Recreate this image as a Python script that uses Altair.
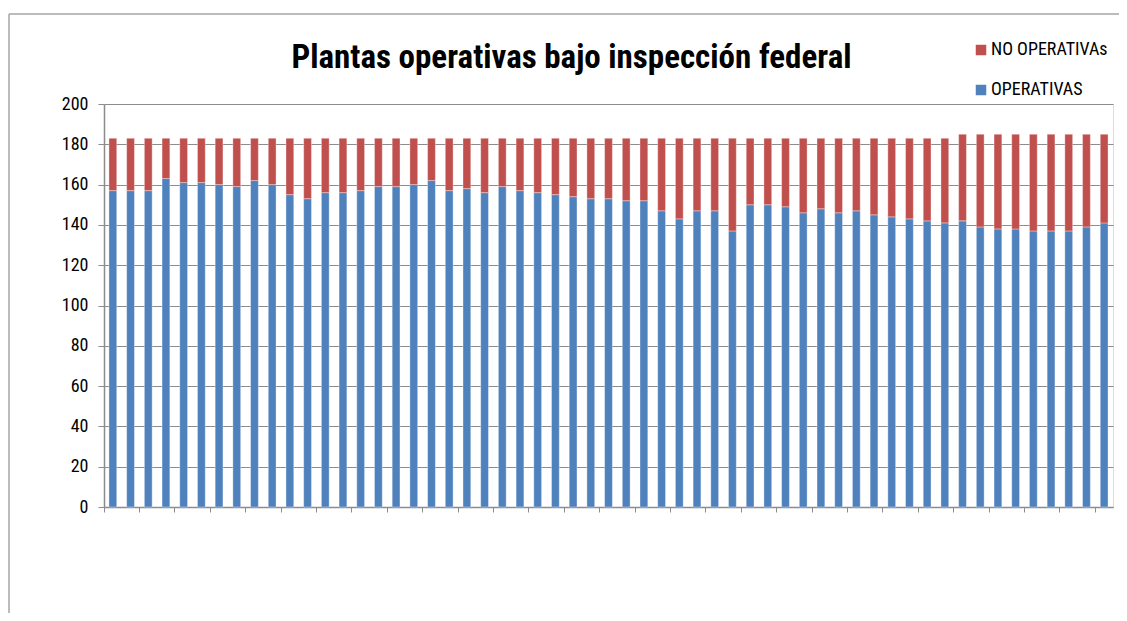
import altair as alt
import pandas as pd

categories = [f"P{i:02d}" for i in range(1, 58)]

operativas = [157, 157, 157, 163, 161, 161, 160, 159, 162, 160,
              155, 153, 156, 156, 157, 159, 159, 160, 162, 157,
              158, 156, 159, 157, 156, 155, 154, 153, 153, 152,
              152, 147, 143, 147, 147, 137, 150, 150, 149, 146,
              148, 146, 147, 145, 144, 143, 142, 141, 142, 139,
              138, 138, 137, 137, 137, 139, 141]

no_operativas = [26, 26, 26, 20, 22, 22, 23, 24, 21, 23,
                 28, 30, 27, 27, 26, 24, 24, 23, 21, 26,
                 25, 27, 24, 26, 27, 28, 29, 30, 30, 31,
                 31, 36, 40, 36, 36, 46, 33, 33, 34, 37,
                 35, 37, 36, 38, 39, 40, 41, 42, 43, 46,
                 47, 47, 48, 48, 48, 46, 44]

series_names = ["NO OPERATIVAs", "OPERATIVAS"]
series_colors = ["#C0504D", "#4F81BD"]

rows = []
for c, op, nop in zip(categories, operativas, no_operativas):
    rows.append({"periodo": c, "serie": "OPERATIVAS", "valor": op, "orden": 0})
    rows.append({"periodo": c, "serie": "NO OPERATIVAs", "valor": nop, "orden": 1})
df = pd.DataFrame(rows)

FONT = "Roboto Condensed, DejaVu Sans Condensed, Liberation Sans Narrow, Arial Narrow, Roboto, sans-serif"
GRID = "#8c8c8c"

bars = alt.Chart(df).mark_bar(
    width=alt.RelativeBandSize(0.44),
    stroke="#ffffff", strokeOpacity=0.35, strokeWidth=1
).encode(
    x=alt.X("periodo:N", sort=categories, title=None,
            scale=alt.Scale(paddingInner=0, paddingOuter=0),
            axis=alt.Axis(labels=False, values=categories[0::2], bandPosition=0,
                          tickSize=5, tickColor=GRID, domainColor=GRID,
                          domainWidth=1.5, grid=False)),
    y=alt.Y("valor:Q", stack="zero", title=None,
            scale=alt.Scale(domain=[0, 200], nice=False),
            axis=alt.Axis(values=list(range(0, 201, 20)), tickSize=6,
                          tickColor=GRID, domainColor=GRID, domainWidth=1.5,
                          gridColor=GRID, gridWidth=1.2, labelFont=FONT,
                          labelFontSize=18, labelColor="#000000", labelPadding=10)),
    color=alt.Color("serie:N", title=None,
                    scale=alt.Scale(domain=series_names, range=series_colors),
                    legend=alt.Legend(orient="none", legendX=868, legendY=-63,
                                      symbolType="square", symbolSize=110,
                                      symbolStrokeWidth=0, labelFont=FONT,
                                      labelFontSize=18, labelColor="#000000",
                                      rowPadding=22, labelOffset=1)),
    order=alt.Order("orden:Q", sort="ascending"),
)

frame_df = pd.DataFrame({"k": [0]})
frame_left = alt.Chart(frame_df).mark_rule(color="#a6a6a6", strokeWidth=1.5).encode(
    x=alt.value(-95), y=alt.value(-90), y2=alt.value(520))
frame_top = alt.Chart(frame_df).mark_rule(color="#a6a6a6", strokeWidth=1.5).encode(
    x=alt.value(-95), x2=alt.value(1015), y=alt.value(-90))

chart = alt.layer(frame_left, frame_top, bars).properties(
    width=1009, height=403,
    autosize=alt.AutoSizeParams(type="none"),
    padding={"left": 96, "top": 96, "right": 6, "bottom": 106},
    title=alt.TitleParams("Plantas operativas bajo inspección federal",
                          font=FONT, fontSize=33, fontWeight="bold",
                          color="#000000", anchor="middle", dx=-37,
                          baseline="alphabetic", offset=-88),
).configure_view(stroke=None).configure(background="#ffffff")

chart.save("out.html", embed_options={"renderer": "svg", "actions": False})
